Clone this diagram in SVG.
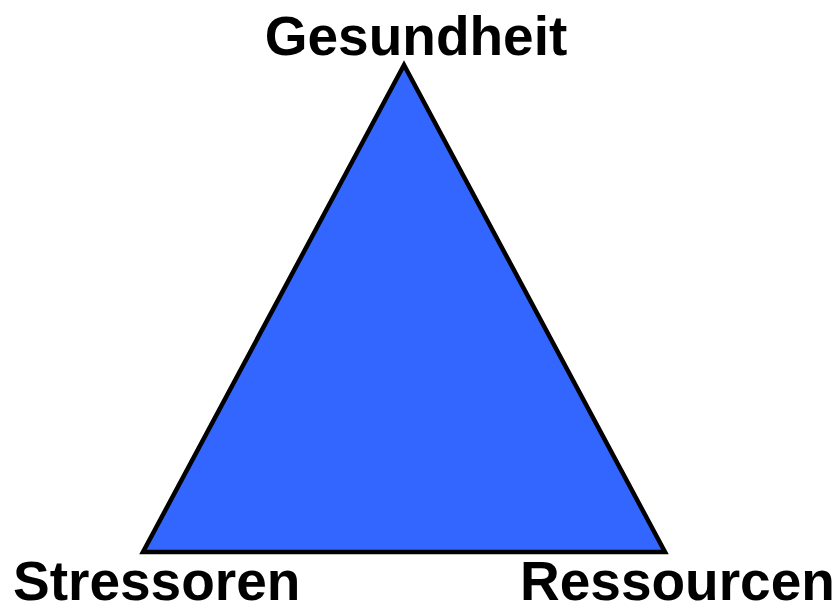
<svg xmlns="http://www.w3.org/2000/svg" width="837" height="605" viewBox="0 0 837 605">
<style>
.lbl{font-family:"Liberation Sans",Arial,sans-serif;font-weight:bold;font-size:55px;fill:#000}
</style>
<rect width="837" height="605" fill="#fff"/>
<g id="triangle">
<polygon points="404,65 143,552 665,552" fill="#3366FF" stroke="#000" stroke-width="4.5" stroke-linejoin="miter"/>
</g>
<g id="connectors"></g>
<g id="gesundheit"><text class="lbl" x="416" y="55" text-anchor="middle">Gesundheit</text></g>
<g id="stressoren"><text class="lbl" x="13" y="600">Stressoren</text></g>
<g id="ressourcen"><text class="lbl" x="520" y="600">Ressourcen</text></g>
</svg>
